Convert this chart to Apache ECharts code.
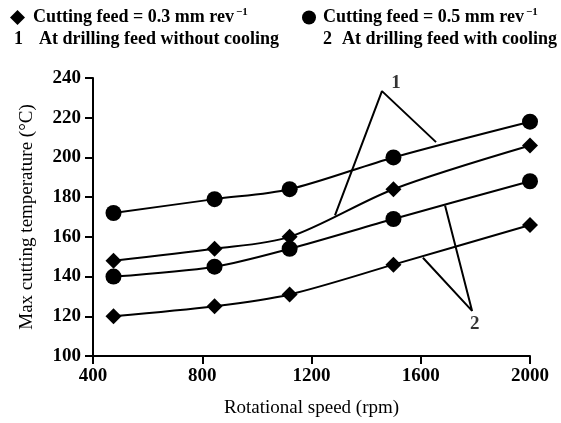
<!DOCTYPE html>
<html>
<head>
<meta charset="UTF-8">
<title>Max cutting temperature</title>
<script src="https://cdn.jsdelivr.net/npm/echarts@6/dist/echarts.min.js"></script>
<style>
	html, body { margin: 0; padding: 0; background: #fff; }
	#chart { width: 561px; height: 423px; }
</style>
</head>
<body>
<div id="chart"></div>
<script>
// rotational speed (rpm)
var speeds = [475, 845, 1120, 1500, 2000];
// max cutting temperature (°C)
var feed03NoCool = [148, 154, 160, 184, 206];
var feed05NoCool = [172, 179, 184, 200, 218];
var feed03Cool = [120, 125, 131, 146, 166];
var feed05Cool = [140, 145, 154, 169, 188];
var yTicks = [100, 120, 140, 160, 180, 200, 220, 240];
var xTicks = [400, 800, 1200, 1600, 2000];
// leader lines for the "1" and "2" callouts, in data units
var leader1 = [[1286, 170.8], [1458, 233.4], [1656, 207.7]];
var leader2 = [[1689, 175.8], [1788, 122.7], [1608, 149.5]];
var calloutLabels = [[1509, 237.5, '1'], [1798, 116.2, '2']];

var FONT = '"Liberation Serif", "Times New Roman", serif';
var nameLow = 'Cutting feed = 0.3 mm rev';
var nameHigh = 'Cutting feed = 0.5 mm rev';

function pairs(vals) {
	return speeds.map(function (s, i) { return [s, vals[i]]; });
}

function dataSeries(name, vals, symbol, size) {
	return {
		name: name,
		type: 'line',
		data: pairs(vals),
		smooth: 0.3,
		symbol: symbol,
		symbolSize: size,
		lineStyle: { color: '#000', width: 2 },
		itemStyle: { color: '#000' },
		z: 3
	};
}

function leaderSeries(pts) {
	return {
		type: 'line',
		data: pts,
		symbol: 'none',
		silent: true,
		legendHoverLink: false,
		lineStyle: { color: '#000', width: 2 },
		z: 2
	};
}

function legendBox(name, icon, left, size, gap) {
	return {
		data: [{ name: name, icon: icon }],
		left: left,
		top: 2,
		itemWidth: size,
		itemHeight: size,
		selectedMode: false,
		formatter: function (n) { return n + '{sup|−1}'; },
		textStyle: {
			fontFamily: FONT,
			fontSize: 18,
			fontWeight: 'bold',
			color: '#000',
			padding: [0, 0, 0, gap],
			rich: {
				sup: { fontFamily: FONT, fontSize: 11, fontWeight: 'bold', color: '#000', verticalAlign: 'top', padding: [0, 0, 10, 2] }
			}
		}
	};
}

function rowText(txt, left) {
	return { type: 'text', left: left, top: 30, style: { text: txt, font: 'bold 18px ' + FONT, fill: '#000' } };
}

var chart = echarts.init(document.getElementById('chart'));
chart.setOption({
	animation: false,
	textStyle: { fontFamily: FONT },
	grid: { left: 93, right: 31, top: 78, bottom: 67, containLabel: false },
	legend: [
		legendBox(nameLow, 'diamond', 5, 15, 3),
		legendBox(nameHigh, 'circle', 297, 14, 2)
	],
	graphic: [
		rowText('1', 14),
		rowText('At drilling feed without cooling', 39),
		rowText('2', 323),
		rowText('At drilling feed with cooling', 342)
	],
	xAxis: {
		type: 'value',
		min: 400,
		max: 2000,
		interval: 400,
		name: 'Rotational speed (rpm)',
		nameLocation: 'middle',
		nameGap: 43,
		nameTextStyle: { fontFamily: FONT, fontSize: 19, color: '#000' },
		axisLine: { lineStyle: { color: '#000', width: 2 } },
		axisTick: { show: true, length: 8, inside: false, lineStyle: { color: '#000', width: 2 } },
		axisLabel: {
			fontFamily: FONT, fontSize: 19, fontWeight: 'bold', color: '#000', margin: 11,
			customValues: xTicks,
			formatter: function (v) { return String(v); }
		},
		splitLine: { show: false }
	},
	yAxis: {
		type: 'value',
		min: 100,
		max: 240,
		interval: 20,
		name: 'Max cutting temperature (°C)',
		nameLocation: 'middle',
		nameGap: 56,
		nameTextStyle: { fontFamily: FONT, fontSize: 19, color: '#000' },
		axisLine: { show: true, lineStyle: { color: '#000', width: 2 } },
		axisTick: { show: true, length: 8, inside: false, lineStyle: { color: '#000', width: 2 } },
		axisLabel: {
			fontFamily: FONT, fontSize: 19, fontWeight: 'bold', color: '#000', margin: 12,
			customValues: yTicks
		},
		splitLine: { show: false }
	},
	series: [
		leaderSeries(leader1),
		leaderSeries(leader2),
		dataSeries(nameHigh, feed05NoCool, 'circle', 16),
		dataSeries(nameLow, feed03NoCool, 'diamond', 16),
		dataSeries(nameHigh, feed05Cool, 'circle', 16),
		dataSeries(nameLow, feed03Cool, 'diamond', 16),
		{
			type: 'scatter',
			silent: true,
			symbolSize: 0,
			data: calloutLabels.map(function (c) { return { value: [c[0], c[1]], label: { formatter: c[2] } }; }),
			label: {
				show: true,
				position: 'inside',
				fontFamily: FONT,
				fontSize: 19,
				fontWeight: 'bold',
				color: '#000'
			}
		}
	]
});
</script>
</body>
</html>
